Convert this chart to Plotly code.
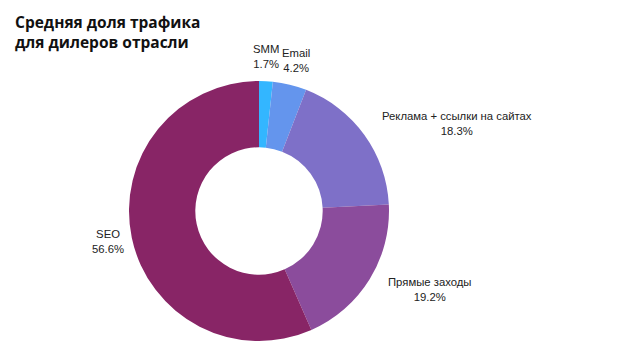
import math
import plotly.graph_objects as go

labels = ["SMM", "Email", "Реклама + ссылки на сайтах", "Прямые заходы", "SEO"]
values = [1.7, 4.2, 18.3, 19.2, 56.6]
colors = ["#33b6ff", "#6495ed", "#7e70c8", "#8b4c9c", "#882566"]
title_lines = ["Средняя доля трафика", "для дилеров отрасли"]

W, H = 622, 350
cx, cy, R = 259, 211, 130
# small pixel nudges for label placement (layout only)
nudge = {"Email": (4, 0), "SEO": (13, 0), "SMM": (0, 0)}

fig = go.Figure(go.Pie(
    labels=labels, values=values, hole=0.49, sort=False, direction="clockwise",
    rotation=0, marker=dict(colors=colors, line=dict(width=0)),
    textinfo="none", hoverinfo="label+percent", showlegend=False,
    domain=dict(x=[(cx - R) / W, (cx + R) / W], y=[(H - cy - R) / H, (H - cy + R) / H]),
))

anns = []
total = sum(values)
cum = 0
for lab, v in zip(labels, values):
    mid = (cum + v / 2) / total * 2 * math.pi
    cum += v
    s, c = math.sin(mid), math.cos(mid)
    xa = "center" if abs(s) < 0.3 else ("left" if s > 0 else "right")
    ya = "bottom" if c > 0.8 else ("top" if c < -0.8 else "middle")
    r = R * (1.07 if ya != "middle" else 1.15)
    dx, dy = nudge.get(lab, (0, 0))
    px = cx + r * s + dx
    py = cy - r * c + dy
    anns.append(dict(
        x=px / W, y=1 - py / H, xref="paper", yref="paper", xanchor=xa, yanchor=ya,
        text=f"{lab}<br>{v:.1f}%", showarrow=False, align="center",
        font=dict(family="Liberation Sans, Arial", size=11.3, color="#222222"),
    ))

anns.append(dict(
    x=14 / W, y=1 - 10 / H, xref="paper", yref="paper",
    xanchor="left", yanchor="top", align="left",
    text="<br>".join(f"<b>{t}</b>" for t in title_lines), showarrow=False,
    font=dict(family="Open Sans", size=15.5, color="#111111"),
    borderpad=0,
))

fig.update_layout(
    width=W, height=H, margin=dict(l=0, r=0, t=0, b=0),
    paper_bgcolor="white", plot_bgcolor="white", annotations=anns,
)
fig.write_html("out.html")
